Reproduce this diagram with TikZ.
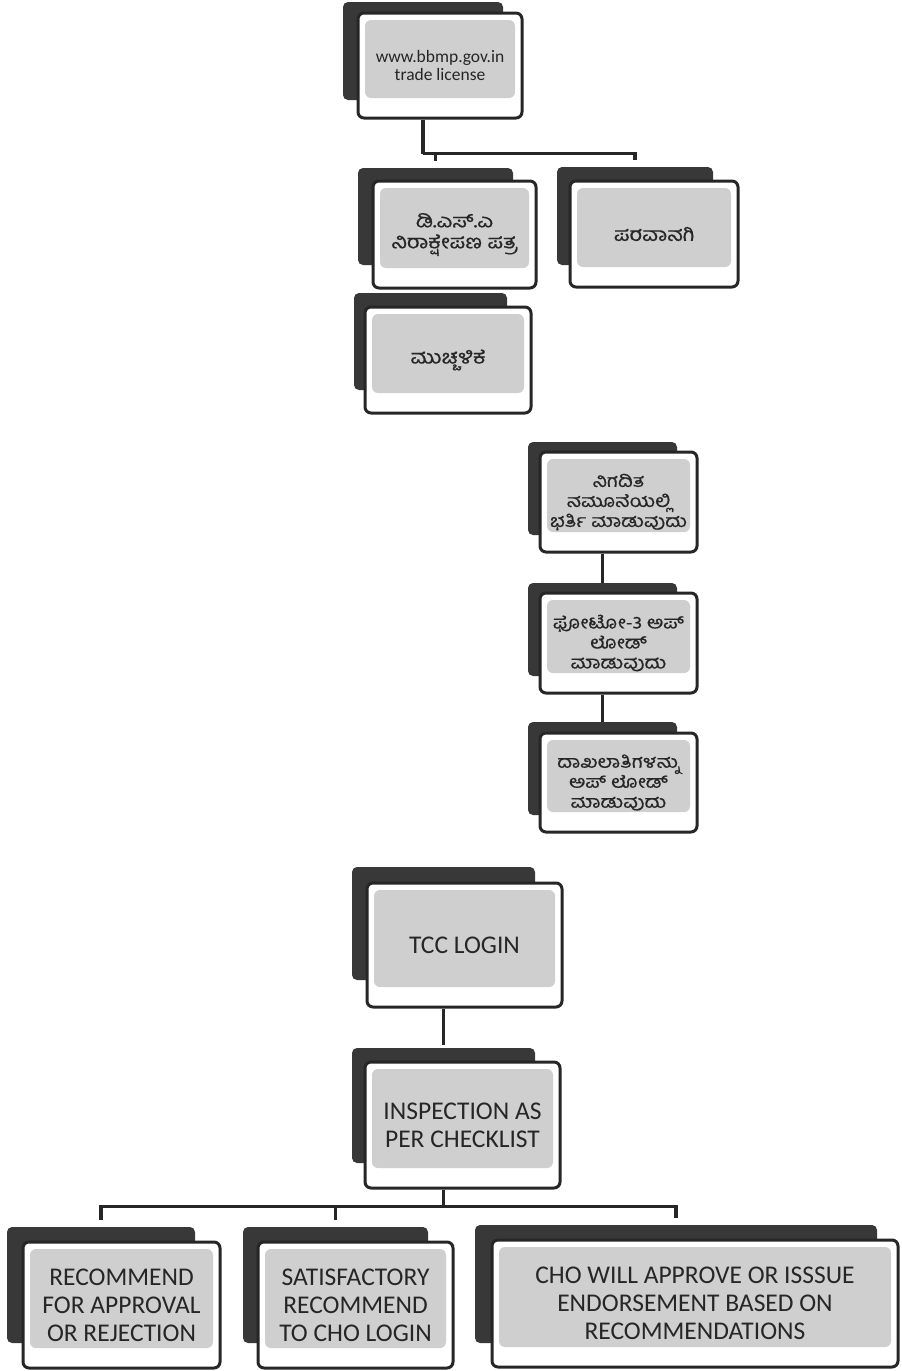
\documentclass[tikz,border=0pt]{standalone}
\usepackage{fontspec}
\setmainfont{Carlito}
\newfontfamily\kn[Script=Kannada, FakeStretch=1.15, FakeBold=0.6]{Hind Mysuru}
\usetikzlibrary{calc}
\tikzset{
	box_b/.style = {rectangle, rounded corners=5pt, fill=black!78, inner sep=0pt},
	box_f/.style = {rectangle, rounded corners=6pt, draw=black!85, line width=3pt,
		fill=white, inner sep=2pt, align=center, text centered, text=black!85,
		path picture={\fill[gray!38]
			([shift={(7pt,-7pt)}]path picture bounding box.north west) rectangle
			([shift={(-7pt,20pt)}]path picture bounding box.south east);}},
	en_s/.style = {font=\fontsize{17.5}{18}\selectfont},
	en_b/.style = {font=\fontsize{25.5}{28}\selectfont},
	kn_t/.style = {font=\kn\fontsize{19}{21}\selectfont},
	kn_s/.style = {font=\kn\fontsize{17.5}{20}\selectfont},
	link/.style = {draw=black!85, line width=3.5pt}
}

\begin{document}
\begin{tikzpicture}[x=1pt, y=-1pt]
\useasboundingbox (0,0) rectangle (902,1371);

% website and its documents
\node [box_b, minimum width=160, minimum height=98] (wwwB) at (423,51) {};
\node [box_f, en_s, minimum width=164, minimum height=105] (www) at (440,65.5)
	{www.bbmp.gov.in\\trade license};
\node [box_b, minimum width=155, minimum height=97] (dsoB) at (435.5,216.5) {};
\node [box_f, kn_t, minimum width=163, minimum height=107] (dso) at (454.5,234.5)
	{ಡಿ.ಎಸ್.ಎ\\ನಿರಾಕ್ಷೇಪಣ ಪತ್ರ};
\node [box_b, minimum width=156, minimum height=98] (lcnB) at (635,216) {};
\node [box_f, kn_t, minimum width=168, minimum height=106] (lcn) at (654,234)
	{ಪರವಾನಗಿ};
\node [box_b, minimum width=153, minimum height=97] (undB) at (430.5,341.5) {};
\node [box_f, kn_t, minimum width=166, minimum height=106] (und) at (448,360)
	{ಮುಚ್ಚಳಿಕೆ};

\draw [link] (wwwB |- www.south) -- ++(0,34) coordinate (j1);
\draw [link] (j1) -| ([yshift=7pt]dsoB.north);
\draw [link] (j1) -| ([yshift=7pt]lcnB.north);

% online steps
\node [box_b, minimum width=149, minimum height=93] (frmB) at (602.5,488.5) {};
\node [box_f, kn_s, minimum width=157, minimum height=100] (frm) at (618.5,502)
	{ನಿಗದಿತ\\ನಮೂನೆಯಲ್ಲಿ\\ಭರ್ತಿ ಮಾಡುವುದು};
\node [box_b, minimum width=149, minimum height=93] (photoB) at (602.5,629.5) {};
\node [box_f, kn_s, minimum width=157, minimum height=100] (photo) at (618.5,643)
	{ಫೋಟೋ-3 ಅಪ್\\ಲೋಡ್\\ಮಾಡುವುದು};
\node [box_b, minimum width=149, minimum height=93] (docB) at (602.5,768.5) {};
\node [box_f, kn_s, minimum width=157, minimum height=99] (doc) at (618.5,782.5)
	{ದಾಖಲಾತಿಗಳನ್ನು\\ಅಪ್ ಲೋಡ್\\ಮಾಡುವುದು};

\draw [link] (frmB |- frm.south) -- (photoB.north);
\draw [link] (photoB |- photo.south) -- (docB.north);

% office side
\node [box_b, minimum width=183, minimum height=113] (tccB) at (443.5,923.5) {};
\node [box_f, en_b, minimum width=195, minimum height=124] (tcc) at (464.5,945)
	{TCC LOGIN};
\node [box_b, minimum width=183, minimum height=115] (inspB) at (443.5,1105.5) {};
\node [box_f, en_b, minimum width=195, minimum height=126] (insp) at (462.5,1125)
	{INSPECTION AS\\PER CHECKLIST};

\draw [link] (tccB |- tcc.south) -- ([yshift=3pt]inspB.north);

\node [box_b, minimum width=188, minimum height=116] (recB) at (101,1285) {};
\node [box_f, en_b, minimum width=197, minimum height=126] (rec) at (121.5,1305)
	{RECOMMEND\\FOR APPROVAL\\OR REJECTION};
\node [box_b, minimum width=185, minimum height=116] (satB) at (335.5,1285) {};
\node [box_f, en_b, minimum width=195, minimum height=126] (sat) at (355.5,1305)
	{SATISFACTORY\\RECOMMEND\\TO CHO LOGIN};
\node [box_b, minimum width=402, minimum height=118] (choB) at (676,1284) {};
\node [box_f, en_b, minimum width=406, minimum height=127] (cho) at (695,1303.5)
	{CHO WILL APPROVE OR ISSSUE\\ENDORSEMENT BASED ON\\RECOMMENDATIONS};

\draw [link] (inspB |- insp.south) -- ++(0,17) coordinate (j2);
\draw [link] (j2) -| ([yshift=7pt]recB.north);
\draw [link] (j2) -| ([yshift=7pt]satB.north);
\draw [link] (j2) -| ([yshift=7pt]choB.north);
\end{tikzpicture}
\end{document}
